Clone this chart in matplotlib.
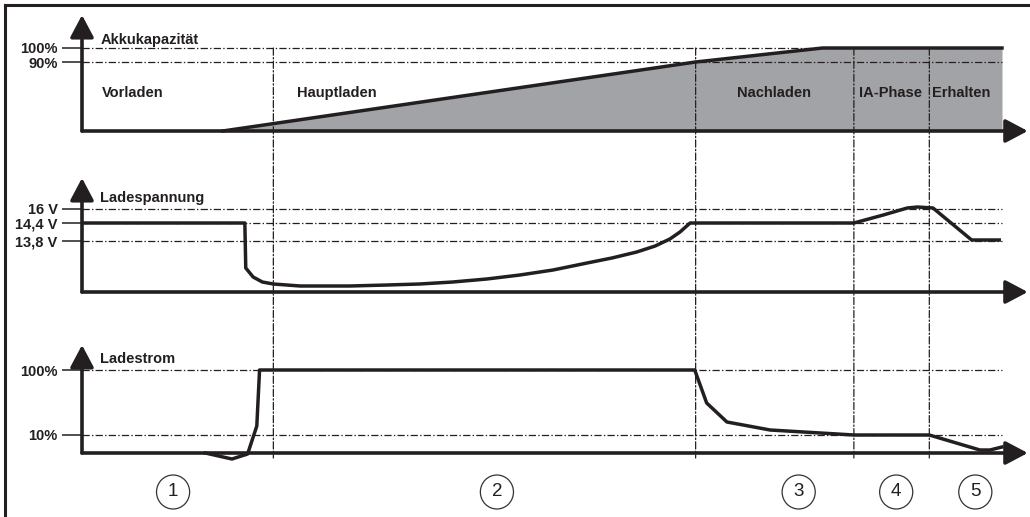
import matplotlib.pyplot as plt
import numpy as np
from matplotlib.patches import Ellipse, ConnectionPatch
from matplotlib.lines import Line2D

plt.rcParams['font.family'] = ['Liberation Sans', 'DejaVu Sans']

# ---- data (schematic time 0..100, levels in schematic units above baseline) ----
phase_bounds = [20.8, 66.7, 83.9, 92.1]

cap_t = [15.3, 66.7, 80.5, 100.0]
cap_v = [0, 69, 83, 83]
cap_ticks = [83, 69]
cap_labels = ["100%", "90%"]

volt_t = [0.0, 17.7, 17.8, 18.6, 19.6, 20.8, 23.7, 29.1, 33.2, 36.7, 40.3, 44.0, 47.6,
          51.2, 54.9, 57.6, 60.3, 62.3, 63.9, 65.0, 66.1, 83.9, 87.1, 89.7, 90.8,
          92.5, 96.7, 99.7]
volt_v = [69, 69, 24, 15, 10, 8, 6, 6, 7, 8, 10, 13, 17,
          22, 29, 34, 40, 46, 53, 60, 69, 69, 77, 84, 85,
          84, 52, 52]
volt_ticks = [83, 69, 51]
volt_labels = ["16 V", "14,4 V", "13,8 V"]

cur_t = [13.4, 16.3, 18.0, 19.0, 19.3, 66.6, 67.9, 70.1, 74.8, 83.9, 92.1, 97.6, 98.7, 100.0]
cur_v = [0, -6, -1, 27, 83, 83, 50, 31, 23, 18, 18, 3, 3, 6]
cur_ticks = [83, 18]
cur_labels = ["100%", "10%"]

phase_names = ["Vorladen", "Hauptladen", "Nachladen", "IA-Phase", "Erhalten"]
phase_name_t = [2.2, 23.4, 71.2, 84.5, 92.4]
phase_nums = ["1", "2", "3", "4", "5"]
phase_num_t = [9.9, 45.1, 77.9, 88.5, 97.1]

ink = "#231f20"
fill_col = "#a2a3a6"
W, H = 1030, 517
XMAX = 103
TIP = 102.8
DATA_END = 100.0
FS = 10.5
dash = (0, (5.8, 1.8, 1.1, 1.8))

fig = plt.figure(figsize=(W / 100, H / 100), dpi=100)
fig.patch.set_facecolor("white")


def make_panel(baseline_px, top, title, title_lv, ticks, labels):
    ylo, yhi = -10, 120
    bottom = (H - (baseline_px - ylo)) / H
    ax = fig.add_axes([82 / W, bottom, XMAX * 9.2 / W, (yhi - ylo) / H])
    ax.set_xlim(0, XMAX)
    ax.set_ylim(ylo, yhi)
    ax.set_facecolor("none")
    for s in ax.spines.values():
        s.set_visible(False)
    ax.set_xticks([])
    ax.set_yticks(ticks)
    ax.set_yticklabels(labels, fontweight="bold", fontsize=FS, color=ink)
    ax.tick_params(axis="y", length=14.5, width=1.1, color=ink, pad=3.0)
    for lv in ticks:
        ax.plot([0, DATA_END], [lv, lv], color=ink, lw=0.9, linestyle=dash, zorder=3)
    arrow = dict(arrowstyle="-|>,head_length=0.68,head_width=0.36", lw=2.6, color=ink,
                 shrinkA=0, shrinkB=0, mutation_scale=20)
    ax.annotate("", xy=(0, top), xytext=(0, 0), arrowprops=arrow, annotation_clip=False, zorder=6)
    ax.annotate("", xy=(TIP, 0), xytext=(0, 0), arrowprops=arrow, annotation_clip=False, zorder=6)
    ax.text(2.0, title_lv, title, fontweight="bold", fontsize=FS, color=ink, va="center")
    return ax


ax1 = make_panel(131, 116, "Akkukapazität", 91, cap_ticks, cap_labels)
ax2 = make_panel(292, 114, "Ladespannung", 94, volt_ticks, volt_labels)
ax3 = make_panel(453, 108, "Ladestrom", 94, cur_ticks, cur_labels)

# capacity
ax1.fill_between(cap_t, cap_v, 0, color=fill_col, lw=0, zorder=1)
ax1.plot(cap_t, cap_v, color=ink, lw=2.5, zorder=4, solid_joinstyle="miter")
for name, t in zip(phase_names, phase_name_t):
    ax1.text(t, 38, name, fontweight="bold", fontsize=FS, color=ink, va="center")

# voltage
ax2.plot(volt_t, volt_v, color=ink, lw=2.5, zorder=4, solid_joinstyle="round")

# current
ax3.plot(cur_t, cur_v, color=ink, lw=2.5, zorder=4, clip_on=False)

# circled phase numbers
for num, t in zip(phase_nums, phase_num_t):
    ax3.add_patch(Ellipse((t, -39), 3.6, 34, facecolor="white", edgecolor="#333333",
                          lw=0.9, clip_on=False))
    ax3.text(t, -39, num, fontsize=13.5, color=ink, ha="center", va="center")

# vertical phase boundaries across all panels
for t in phase_bounds:
    cp = ConnectionPatch((t, 83), (t, -5), coordsA="data", coordsB="data",
                         axesA=ax1, axesB=ax3, color=ink, lw=0.9, linestyle=dash, zorder=3)
    fig.add_artist(cp)

# frame (top and left)
fig.add_artist(Line2D([5 / W, 1], [1 - 5 / H, 1 - 5 / H], transform=fig.transFigure,
                      color=ink, lw=2.2))
fig.add_artist(Line2D([5 / W, 5 / W], [0, 1 - 5 / H], transform=fig.transFigure,
                      color=ink, lw=2.2))

fig.savefig("out.png", dpi=100)
